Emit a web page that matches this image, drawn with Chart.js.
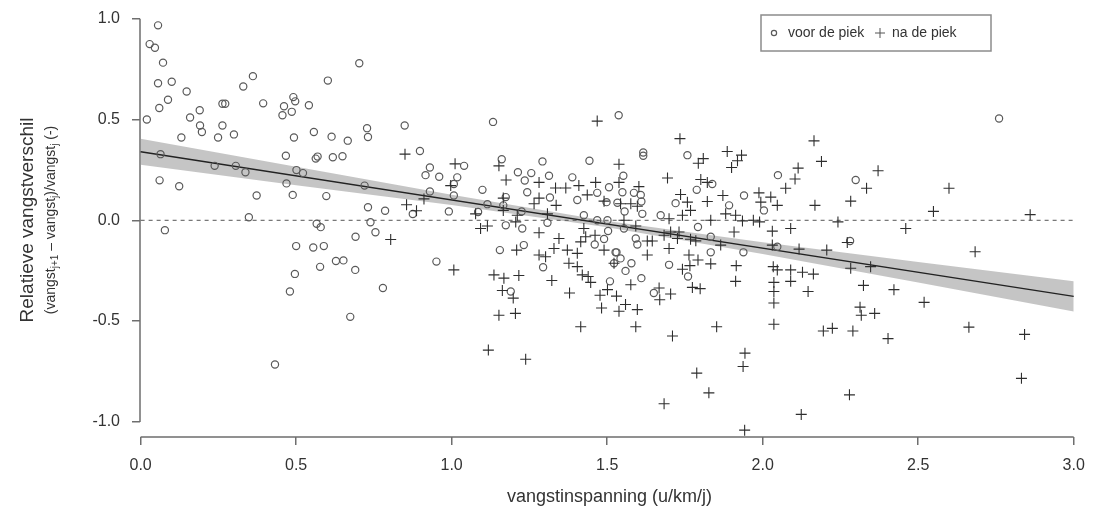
<!DOCTYPE html>
<html>
<head>
<meta charset="utf-8">
<script src="https://cdn.jsdelivr.net/npm/chart.js@4.4.1/dist/chart.umd.min.js"></script>
<style>
  html, body { margin: 0; padding: 0; background: #fff; }
</style>
</head>
<body>
<canvas id="chart" width="1099" height="513"></canvas>
<script>
// punten: [vangstinspanning, relatief verschil]
const voorPiek = [
  [0.056, 0.967], [0.029, 0.874], [0.046, 0.856], [0.072, 0.782], [0.056, 0.680], [0.100, 0.687],
  [0.148, 0.639], [0.088, 0.598], [0.060, 0.557], [0.020, 0.500], [0.159, 0.510], [0.190, 0.546],
  [0.191, 0.470], [0.197, 0.438], [0.131, 0.411], [0.263, 0.578], [0.272, 0.578], [0.263, 0.470],
  [0.249, 0.411], [0.300, 0.426], [0.330, 0.664], [0.361, 0.715], [0.394, 0.580], [0.064, 0.328],
  [0.238, 0.270], [0.306, 0.270], [0.337, 0.238], [0.373, 0.123], [0.061, 0.198], [0.124, 0.169],
  [0.348, 0.015], [0.078, -0.049], [0.432, -0.715], [0.461, 0.566], [0.456, 0.521], [0.486, 0.538],
  [0.491, 0.611], [0.497, 0.590], [0.493, 0.411], [0.467, 0.320], [0.469, 0.183], [0.489, 0.126],
  [0.501, 0.249], [0.500, -0.128], [0.496, -0.266], [0.480, -0.353], [0.522, 0.234], [0.703, 0.779],
  [0.602, 0.693], [0.541, 0.571], [0.557, 0.438], [0.614, 0.415], [0.666, 0.395], [0.728, 0.457],
  [0.731, 0.413], [0.563, 0.306], [0.569, 0.316], [0.618, 0.313], [0.649, 0.318], [0.849, 0.470],
  [0.898, 0.344], [0.597, 0.120], [0.720, 0.172], [0.731, 0.065], [0.786, 0.047], [0.566, -0.017],
  [0.579, -0.034], [0.739, -0.010], [0.755, -0.059], [0.691, -0.082], [0.555, -0.135], [0.589, -0.128],
  [0.577, -0.231], [0.628, -0.202], [0.652, -0.199], [0.690, -0.246], [0.779, -0.336], [0.674, -0.479],
  [0.951, -0.205], [0.930, 0.262], [0.916, 0.224], [0.960, 0.216], [0.930, 0.143], [0.875, 0.031],
  [0.991, 0.044], [1.007, 0.123], [1.018, 0.213], [1.007, 0.180], [1.133, 0.488], [1.040, 0.270],
  [1.099, 0.151], [1.161, 0.303], [1.115, 0.080], [1.174, 0.115], [1.166, 0.074], [1.085, 0.041],
  [1.174, -0.025], [1.227, -0.041], [1.225, 0.044], [1.155, -0.148], [1.232, -0.123], [1.190, -0.353],
  [1.294, -0.233], [1.213, 0.238], [1.256, 0.234], [1.235, 0.197], [1.243, 0.139], [1.292, 0.292],
  [1.313, 0.221], [1.316, 0.113], [1.308, -0.012], [1.388, 0.213], [1.404, 0.101], [1.443, 0.295],
  [1.468, 0.136], [1.498, 0.090], [1.501, 0.000], [1.468, 0.000], [1.425, 0.025], [1.503, -0.053],
  [1.490, -0.093], [1.460, -0.120], [1.530, -0.159], [1.522, -0.213], [1.509, -0.303], [1.537, 0.521],
  [1.506, 0.164], [1.616, 0.336], [1.616, 0.320], [1.758, 0.323], [1.552, 0.221], [1.549, 0.139],
  [1.586, 0.136], [1.608, 0.126], [1.610, 0.093], [1.533, 0.087], [1.556, 0.044], [1.613, 0.032],
  [1.554, -0.041], [1.592, -0.090], [1.597, -0.120], [1.527, -0.159], [1.543, -0.189], [1.578, -0.213],
  [1.559, -0.251], [1.610, -0.287], [1.650, -0.361], [1.672, 0.025], [1.720, 0.085], [1.788, 0.151],
  [1.838, 0.180], [1.792, -0.033], [1.833, -0.159], [1.760, -0.279], [1.699, -0.221], [1.892, 0.074],
  [1.940, 0.123], [2.004, 0.049], [2.049, 0.224], [1.938, -0.159], [2.047, -0.131], [1.833, -0.082],
  [2.299, 0.200], [2.281, -0.103], [2.760, 0.505]
];

const naPiek = [
  [0.850, 0.328], [0.855, 0.077], [0.887, 0.047], [0.911, 0.106], [0.804, -0.095], [1.011, 0.280],
  [0.997, 0.172], [1.007, -0.246], [1.152, 0.270], [1.175, 0.200], [1.166, 0.110], [1.166, 0.049],
  [1.077, 0.032], [1.093, -0.041], [1.115, -0.028], [1.206, -0.008], [1.209, -0.148], [1.281, -0.062],
  [1.136, -0.271], [1.168, -0.287], [1.216, -0.274], [1.163, -0.348], [1.198, -0.386], [1.152, -0.471],
  [1.205, -0.462], [1.118, -0.644], [1.238, -0.689], [1.281, 0.188], [1.281, 0.110], [1.265, 0.082],
  [1.308, 0.032], [1.334, 0.160], [1.336, 0.074], [1.367, 0.160], [1.409, 0.172], [1.436, 0.126],
  [1.463, 0.188], [1.468, 0.492], [1.538, 0.278], [1.538, 0.188], [1.490, 0.095], [1.211, 0.025],
  [1.281, -0.172], [1.302, -0.181], [1.329, -0.140], [1.345, -0.090], [1.372, -0.148], [1.404, -0.164],
  [1.425, -0.041], [1.431, -0.082], [1.415, -0.107], [1.377, -0.213], [1.404, -0.230], [1.420, -0.271],
  [1.439, -0.279], [1.447, -0.308], [1.322, -0.299], [1.379, -0.361], [1.415, -0.528], [1.490, -0.148],
  [1.477, -0.372], [1.482, -0.435], [1.530, -0.376], [1.538, -0.451], [1.501, -0.344], [1.461, -0.074],
  [1.734, 0.405], [1.886, 0.341], [1.932, 0.323], [1.919, 0.295], [1.900, 0.262], [1.793, 0.283],
  [1.809, 0.306], [1.694, 0.210], [1.801, 0.202], [1.822, 0.188], [1.602, 0.167], [1.736, 0.128],
  [1.822, 0.093], [1.872, 0.123], [1.988, 0.136], [2.026, 0.115], [2.047, 0.074], [1.543, 0.082],
  [1.576, 0.082], [1.597, 0.070], [1.554, 0.000], [1.592, -0.028], [1.699, 0.008], [1.742, 0.025],
  [1.768, 0.049], [1.881, 0.032], [1.913, 0.025], [1.935, -0.003], [1.970, 0.000], [1.990, -0.008],
  [2.031, -0.054], [2.031, -0.123], [1.629, -0.103], [1.645, -0.103], [1.704, -0.058], [1.726, -0.090],
  [1.731, -0.058], [1.768, -0.094], [1.785, -0.102], [1.865, -0.123], [1.908, -0.058], [1.629, -0.172],
  [1.699, -0.140], [1.763, -0.172], [1.792, -0.197], [1.766, -0.225], [1.742, -0.243], [1.833, -0.216],
  [1.915, -0.225], [2.034, -0.230], [1.522, -0.213], [1.576, -0.320], [1.559, -0.418], [1.597, -0.443],
  [1.667, -0.336], [1.669, -0.394], [1.704, -0.366], [1.774, -0.333], [1.799, -0.339], [1.913, -0.303],
  [2.036, -0.308], [2.036, -0.353], [2.036, -0.410], [2.036, -0.516], [1.592, -0.528], [1.710, -0.574],
  [1.852, -0.528], [1.788, -0.758], [1.827, -0.856], [1.683, -0.910], [1.943, -0.659], [1.937, -0.725],
  [1.942, -1.041], [1.683, -0.074], [1.833, 0.000], [1.758, 0.090], [1.994, 0.090], [2.165, 0.394],
  [2.189, 0.292], [2.114, 0.259], [2.104, 0.205], [2.074, 0.159], [2.371, 0.246], [2.334, 0.159],
  [2.283, 0.095], [2.168, 0.074], [2.242, -0.008], [2.090, -0.041], [2.460, -0.041], [2.549, 0.044],
  [2.117, -0.143], [2.206, -0.148], [2.283, -0.238], [2.347, -0.230], [2.090, -0.246], [2.128, -0.258],
  [2.163, -0.267], [2.090, -0.303], [2.047, -0.246], [2.146, -0.353], [2.324, -0.323], [2.422, -0.344],
  [2.519, -0.407], [2.313, -0.431], [2.317, -0.471], [2.360, -0.462], [2.195, -0.549], [2.224, -0.536],
  [2.290, -0.549], [2.403, -0.587], [2.279, -0.866], [2.124, -0.963], [2.272, -0.110], [2.599, 0.159],
  [2.860, 0.028], [2.683, -0.156], [2.663, -0.530], [2.842, -0.566], [2.832, -0.784]
];

// regressielijn en betrouwbaarheidsband
const fitX = [0, 3];
const fitY = [0.340, -0.377];
const bandX = [0, 0.5, 1.0, 1.5, 2.0, 2.5, 3.0];
const bandUpper = [0.405, 0.266, 0.127, -0.003, -0.109, -0.207, -0.302];
const bandLower = [0.275, 0.174, 0.076, -0.034, -0.167, -0.308, -0.452];

const xTicks = [0, 0.5, 1.0, 1.5, 2.0, 2.5, 3.0];
const yTicks = [-1.0, -0.5, 0, 0.5, 1.0];
const refLineY = 0;

const axisGrey = '#6e6e6e';
const textGrey = '#333333';
const fontFam = "'Liberation Sans', Arial, sans-serif";
Chart.defaults.font.family = fontFam;

const toXY = (xs, ys) => xs.map((x, i) => ({ x: x, y: ys[i] }));

// R-style axes: line only from first to last tick
const axisLines = {
  id: 'axisLines',
  beforeDatasetsDraw(chart) {
    const { ctx, chartArea, scales: { x, y } } = chart;
    ctx.save();
    ctx.strokeStyle = axisGrey;
    ctx.lineWidth = 1.5;
    ctx.beginPath();
    ctx.moveTo(x.getPixelForValue(xTicks[0]), chartArea.bottom);
    ctx.lineTo(x.getPixelForValue(xTicks[xTicks.length - 1]), chartArea.bottom);
    ctx.moveTo(chartArea.left, y.getPixelForValue(yTicks[0]));
    ctx.lineTo(chartArea.left, y.getPixelForValue(yTicks[yTicks.length - 1]));
    ctx.stroke();
    ctx.restore();
  }
};

// two-line y title with subscripts
const yTitle = {
  id: 'yTitle',
  afterDraw(chart) {
    const ctx = chart.ctx;
    const cy = 220;
    ctx.save();
    ctx.fillStyle = textGrey;
    ctx.textBaseline = 'middle';
    ctx.translate(28, cy);
    ctx.rotate(-Math.PI / 2);
    ctx.font = '19px ' + fontFam;
    ctx.textAlign = 'center';
    ctx.fillText('Relatieve vangstverschil', 0, 0);
    ctx.restore();

    const parts = [
      ['(vangst', false], ['j+1', true], [' \u2013 vangst', false], ['j', true],
      [')/vangst', false], ['j', true], [' (-)', false]
    ];
    const big = '14px ' + fontFam;
    const small = '10px ' + fontFam;
    ctx.save();
    let total = 0;
    parts.forEach(p => { ctx.font = p[1] ? small : big; total += ctx.measureText(p[0]).width; });
    ctx.translate(51, cy);
    ctx.rotate(-Math.PI / 2);
    ctx.fillStyle = textGrey;
    ctx.textBaseline = 'middle';
    ctx.textAlign = 'left';
    let pos = -total / 2;
    parts.forEach(p => {
      ctx.font = p[1] ? small : big;
      ctx.fillText(p[0], pos, p[1] ? 4 : 0);
      pos += ctx.measureText(p[0]).width;
    });
    ctx.restore();
  }
};

// boxed legend inside the plot, top right
const boxLegend = {
  id: 'boxLegend',
  afterDraw(chart) {
    const ctx = chart.ctx;
    const left = 761, top = 15, w = 230, h = 36, mid = top + h / 2;
    ctx.save();
    ctx.fillStyle = '#fff';
    ctx.fillRect(left, top, w, h);
    ctx.strokeStyle = '#8c8c8c';
    ctx.lineWidth = 1.5;
    ctx.strokeRect(left, top, w, h);

    ctx.strokeStyle = '#5a5a5a';
    ctx.lineWidth = 1.2;
    ctx.beginPath();
    ctx.arc(left + 13, mid, 2.6, 0, Math.PI * 2);
    ctx.stroke();

    ctx.fillStyle = textGrey;
    ctx.font = '14px ' + fontFam;
    ctx.textBaseline = 'middle';
    ctx.fillText(chart.data.datasets[0].label, left + 27, mid);

    ctx.strokeStyle = '#555';
    ctx.lineWidth = 1;
    ctx.beginPath();
    ctx.moveTo(left + 114, mid); ctx.lineTo(left + 124, mid);
    ctx.moveTo(left + 119, mid - 5); ctx.lineTo(left + 119, mid + 5);
    ctx.stroke();
    ctx.fillText(chart.data.datasets[1].label, left + 131, mid);
    ctx.restore();
  }
};

new Chart(document.getElementById('chart'), {
  type: 'scatter',
  data: {
    datasets: [
      {
        label: 'voor de piek',
        data: voorPiek.map(p => ({ x: p[0], y: p[1] })),
        pointStyle: 'circle',
        pointRadius: 3.6,
        borderWidth: 1.2,
        pointBorderWidth: 1.2,
        borderColor: '#5a5a5a',
        backgroundColor: 'rgba(0,0,0,0)',
        order: 1
      },
      {
        label: 'na de piek',
        data: naPiek.map(p => ({ x: p[0], y: p[1] })),
        pointStyle: 'cross',
        pointRadius: 5.5,
        borderWidth: 1.1,
        pointBorderWidth: 1.1,
        borderColor: '#2e2e2e',
        order: 0
      },
      {
        label: 'fit',
        type: 'line',
        data: toXY(fitX, fitY),
        borderColor: '#222',
        borderWidth: 1.3,
        pointRadius: 0,
        fill: false,
        order: 2
      },
      {
        label: 'band boven',
        type: 'line',
        data: toXY(bandX, bandUpper),
        borderWidth: 0,
        borderColor: 'rgba(0,0,0,0)',
        pointRadius: 0,
        fill: '+1',
        backgroundColor: 'rgba(150,150,150,0.55)',
        order: 4
      },
      {
        label: 'band onder',
        type: 'line',
        data: toXY(bandX, bandLower),
        borderWidth: 0,
        borderColor: 'rgba(0,0,0,0)',
        pointRadius: 0,
        fill: false,
        order: 4
      },
      {
        label: 'nul',
        type: 'line',
        data: [{ x: xTicks[0], y: refLineY }, { x: xTicks[xTicks.length - 1], y: refLineY }],
        borderColor: '#555',
        borderWidth: 1,
        borderDash: [4, 4],
        pointRadius: 0,
        fill: false,
        order: 3
      }
    ]
  },
  options: {
    responsive: false,
    animation: false,
    devicePixelRatio: 1,
    layout: { padding: { top: 3, right: 20, bottom: 0, left: 0 } },
    plugins: { legend: { display: false }, tooltip: { enabled: false } },
    scales: {
      x: {
        type: 'linear',
        min: -0.002,
        max: 3.017,
        afterBuildTicks: s => { s.ticks = xTicks.map(v => ({ value: v })); },
        afterFit: s => { s.height = 76; s.paddingLeft = 0; s.paddingRight = 0; },
        border: { display: false },
        grid: { drawOnChartArea: false, drawTicks: true, tickLength: 8, color: axisGrey, lineWidth: 1.5 },
        ticks: { padding: 11, color: textGrey, font: { size: 16 }, maxRotation: 0, autoSkip: false,
                 callback: v => v.toFixed(1) },
        title: { display: true, text: 'vangstinspanning (u/km/j)', color: textGrey,
                 font: { size: 18 }, padding: { top: 0, bottom: 5 } }
      },
      y: {
        type: 'linear',
        min: -1.075,
        max: 1.06,
        afterBuildTicks: s => { s.ticks = yTicks.map(v => ({ value: v })); },
        afterFit: s => { s.width = 140; s.paddingTop = 0; s.paddingBottom = 0; },
        border: { display: false },
        grid: { drawOnChartArea: false, drawTicks: true, tickLength: 8, color: axisGrey, lineWidth: 1.5 },
        ticks: { padding: 12, color: textGrey, font: { size: 16 }, autoSkip: false,
                 callback: v => v.toFixed(1) }
      }
    }
  },
  plugins: [axisLines, yTitle, boxLegend]
});
</script>
</body>
</html>
